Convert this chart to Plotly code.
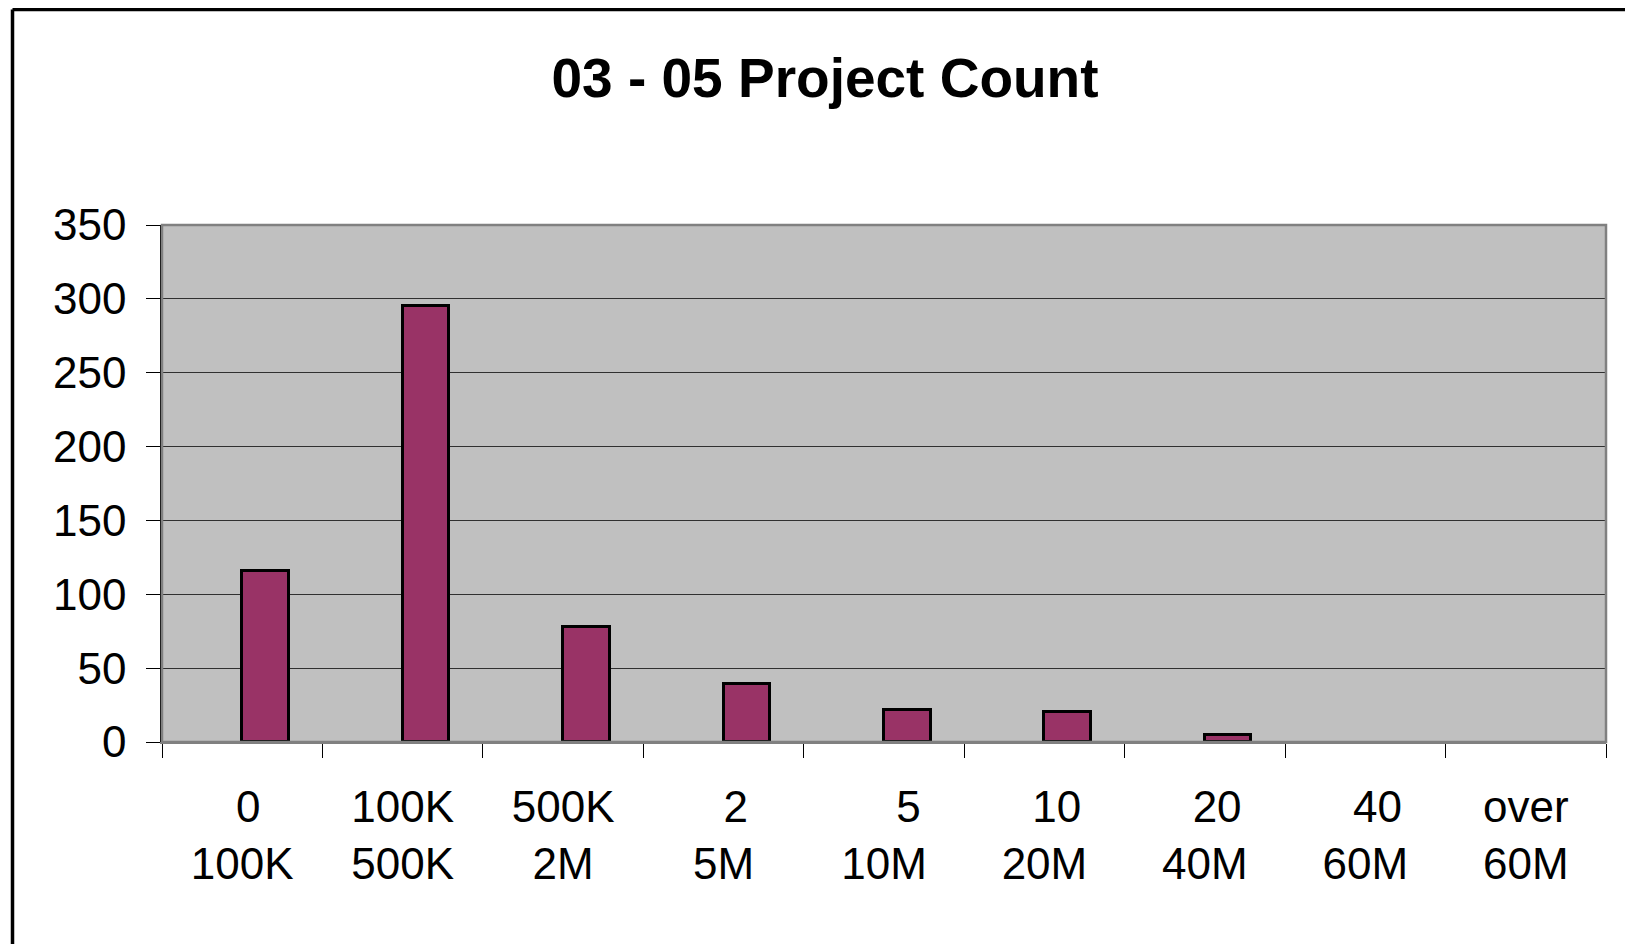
import plotly.graph_objects as go

categories = ["0-100K", "100K-500K", "500K-2M", "2-5M", "5-10M",
              "10-20M", "20-40M", "40-60M", "over 60M"]
counts = [116, 295, 78, 39, 22, 20, 5, 0, 0]
NB = "\u00a0"
tick_labels = [NB + "0<br>100K", "100K<br>500K", "500K<br>2M", NB * 2 + "2<br>5M",
               NB * 4 + "5<br>10M", NB * 2 + "10<br>20M", NB * 2 + "20<br>40M",
               NB * 2 + "40<br>60M", "over<br>60M"]
title_text = "03 - 05 Project Count"

# page body adds an 8px offset, so positions are relative to (8, 8)
W, H = 1633, 944
L, R, T, B = 154, 35, 217, 210
pw, ph = W - L - R, H - T - B

fig = go.Figure()
fig.add_trace(go.Bar(
    x=categories, y=counts, offset=0, width=0.29,
    marker=dict(color="#993366",
                line=dict(color="black", width=[3 if c > 0 else 0 for c in counts])),
))

# outer chart border (only left & top visible)
bx0 = (4.5 - L) / pw
by1 = (H - B - 1.5) / ph
fig.add_shape(type="line", xref="paper", yref="paper",
              x0=bx0, x1=bx0, y0=-0.6, y1=by1,
              line=dict(color="black", width=3.5), layer="below")
fig.add_shape(type="line", xref="paper", yref="paper",
              x0=bx0, x1=1.2, y0=by1, y1=by1,
              line=dict(color="black", width=3.5), layer="below")
# plot area border
fig.add_shape(type="rect", xref="paper", yref="paper",
              x0=0, x1=1, y0=0, y1=1,
              line=dict(color="#808080", width=2.5), layer="above")

fig.update_layout(
    width=W, height=H,
    margin=dict(l=L, r=R, t=T, b=B),
    paper_bgcolor="white", plot_bgcolor="#C0C0C0",
    showlegend=False, bargap=0,
    font=dict(family="Liberation Sans, Arial, sans-serif", color="black", size=44),
    title=dict(text="<b>" + title_text + "</b>", x=817 / W, xanchor="center",
               xref="container", yref="container", y=1 - 70 / H, yanchor="middle",
               font=dict(size=55, family="Liberation Sans, Arial, sans-serif", color="black")),
)
fig.update_xaxes(
    type="category", tickvals=categories, ticktext=tick_labels,
    tickson="boundaries", ticks="outside", ticklen=14, tickwidth=1, tickcolor="black",
    showline=True, linecolor="#808080", linewidth=2, showgrid=False,
    tickfont=dict(size=44), ticklabelstandoff=25,
)
fig.update_yaxes(
    range=[0, 350], dtick=50, ticks="outside", ticklen=14, tickwidth=1, tickcolor="black",
    showline=True, linecolor="black", linewidth=1.5,
    showgrid=True, gridcolor="#303030", gridwidth=1.2, zeroline=False,
    tickfont=dict(size=44), ticklabelstandoff=11,
)

fig.write_html("out.html")
